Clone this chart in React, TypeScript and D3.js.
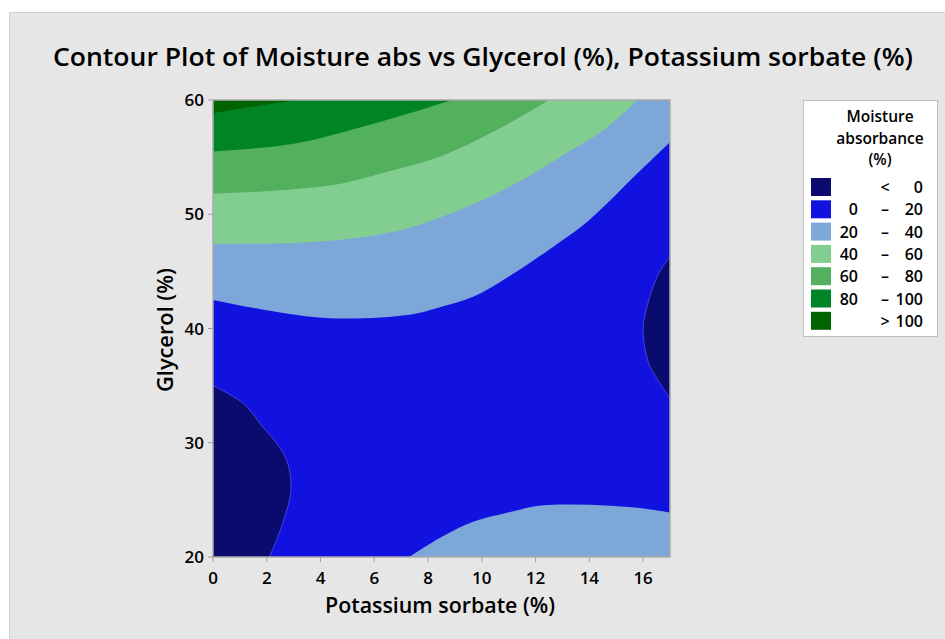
import React from "react";
import * as d3 from "d3";

// ---- data ----
const xTicks = [0, 2, 4, 6, 8, 10, 12, 14, 16];
const yTicks = [20, 30, 40, 50, 60];
const xDomain = [0, 17];
const yDomain = [20, 60];

// contour lines (x = Potassium sorbate %, y = Glycerol %)
const c0Left = [
  { x: 2.1, y: 20 }, { x: 2.6, y: 23 }, { x: 2.9, y: 26 }, { x: 2.7, y: 28.7 },
  { x: 1.75, y: 31.7 }, { x: 1.1, y: 33.5 }, { x: 0, y: 35 },
];
const c0Right = [
  { x: 17, y: 33.9 }, { x: 16.55, y: 35.5 }, { x: 16.2, y: 37 }, { x: 16.0, y: 40 },
  { x: 16.25, y: 42.8 }, { x: 16.6, y: 44.9 }, { x: 17, y: 46.3 },
];
const c20Upper = [
  { x: 0, y: 42.5 }, { x: 2, y: 41.6 }, { x: 4.35, y: 40.9 }, { x: 7.3, y: 41.2 },
  { x: 8.5, y: 41.9 }, { x: 9.7, y: 42.8 }, { x: 10.9, y: 44.4 }, { x: 12.5, y: 46.9 },
  { x: 14, y: 49.5 }, { x: 15.8, y: 53.6 }, { x: 17, y: 56.3 },
];
const c20Lower = [
  { x: 7.3, y: 20 }, { x: 8.5, y: 21.75 }, { x: 9.7, y: 23.1 }, { x: 10.9, y: 23.85 },
  { x: 12.2, y: 24.5 }, { x: 13.4, y: 24.6 }, { x: 14.6, y: 24.5 }, { x: 15.8, y: 24.3 },
  { x: 17, y: 23.9 },
];
const c40 = [
  { x: 0, y: 47.4 }, { x: 3.2, y: 47.5 }, { x: 5.6, y: 48.0 }, { x: 7.3, y: 48.8 },
  { x: 8.55, y: 49.8 }, { x: 10, y: 51.2 }, { x: 11.5, y: 53.0 }, { x: 12.9, y: 55 },
  { x: 14.5, y: 57.3 }, { x: 15.8, y: 60 },
];
const c60 = [
  { x: 0, y: 51.8 }, { x: 2.5, y: 52.1 }, { x: 4.8, y: 52.7 }, { x: 6.3, y: 53.6 },
  { x: 8.5, y: 55.1 }, { x: 10.5, y: 57.3 }, { x: 12.5, y: 60 },
];
const c80 = [
  { x: 0, y: 55.5 }, { x: 2.5, y: 56 }, { x: 3.7, y: 56.5 }, { x: 6.1, y: 58 },
  { x: 7.4, y: 58.9 }, { x: 8.9, y: 60 },
];
const c100 = [{ x: 0, y: 58.85 }, { x: 2, y: 59.6 }, { x: 3.2, y: 60 }];

const bandColors = ["#0B0A6E", "#1212E0", "#7DA7D8", "#82CD90", "#53B05F", "#018426", "#006500"];
const legendLow = ["", "0", "20", "40", "60", "80", ""];
const legendSep = ["<", "–", "–", "–", "–", "–", ">"];
const legendHigh = ["0", "20", "40", "60", "80", "100", "100"];
const legendTitle = ["Moisture", "absorbance", "(%)"];

const title = "Contour Plot of Moisture abs vs Glycerol (%), Potassium sorbate (%)";
const xLabel = "Potassium sorbate (%)";
const yLabel = "Glycerol (%)";

type P = { x: number; y: number };

export default function App() {
  const W = 945, H = 639;
  const left = 213, right = 670, top = 100, bottom = 557;
  const xs = d3.scaleLinear().domain(xDomain).range([left, right]);
  const ys = d3.scaleLinear().domain(yDomain).range([bottom, top]);
  const font = "'Open Sans', 'Noto Sans', sans-serif";
  const curve = d3.curveCatmullRom.alpha(0.5);

  const areaTop = d3.area<P>().x(d => xs(d.x)).y0(ys(60)).y1(d => ys(d.y)).curve(curve);
  const areaBottom = d3.area<P>().x(d => xs(d.x)).y0(ys(20)).y1(d => ys(d.y)).curve(curve);
  const areaLeft = d3.area<P>().y(d => ys(d.y)).x0(xs(0)).x1(d => xs(d.x)).curve(curve);
  const areaRight = d3.area<P>().y(d => ys(d.y)).x0(xs(17)).x1(d => xs(d.x)).curve(curve);
  const lineP = d3.line<P>().x(d => xs(d.x)).y(d => ys(d.y)).curve(curve);

  const legX = 803, legY = 100, legW = 134, legH = 236;
  const rowY0 = 187, rowStep = 22.3;

  return (
    <svg width={W} height={H} style={{ position: "absolute", left: 0, top: 0 }} fontFamily={font}>
      <rect x={0} y={0} width={W} height={H} fill="#ffffff" />
      <rect x={9.5} y={12.5} width={W} height={H} fill="#E6E6E6" stroke="#D0D0D0" />
      <text x={483} y={66} textAnchor="middle" fontSize={26} fontWeight={600} fill="#000"
        textLength={860} lengthAdjust="spacingAndGlyphs">{title}</text>

      <defs>
        <clipPath id="plotclip">
          <rect x={left} y={top} width={right - left} height={bottom - top} />
        </clipPath>
      </defs>
      <g clipPath="url(#plotclip)">
        <rect x={left} y={top} width={right - left} height={bottom - top} fill={bandColors[1]} />
        <path d={areaTop(c20Upper) || ""} fill={bandColors[2]} />
        <path d={areaTop(c40) || ""} fill={bandColors[3]} />
        <path d={areaTop(c60) || ""} fill={bandColors[4]} />
        <path d={areaTop(c80) || ""} fill={bandColors[5]} />
        <path d={areaTop(c100) || ""} fill={bandColors[6]} />
        <path d={areaBottom(c20Lower) || ""} fill={bandColors[2]} />
        <path d={areaLeft(c0Left) || ""} fill={bandColors[0]} />
        <path d={areaRight(c0Right) || ""} fill={bandColors[0]} />
        <path d={lineP(c0Left) || ""} fill="none" stroke="#5050E8" strokeWidth={0.8} />
        <path d={lineP(c0Right) || ""} fill="none" stroke="#5050E8" strokeWidth={0.8} />
      </g>
      <rect x={left} y={top} width={right - left} height={bottom - top} fill="none" stroke="#ABABAB" strokeWidth={1.5} />

      {xTicks.map(t => (
        <g key={"xt" + t}>
          <line x1={xs(t)} x2={xs(t)} y1={bottom} y2={bottom + 5} stroke="#A0A0A0" />
          <text x={xs(t)} y={584} textAnchor="middle" fontSize={17} fontWeight={600} fill="#000">{t}</text>
        </g>
      ))}
      {yTicks.map(t => (
        <g key={"yt" + t}>
          <line x1={left - 5} x2={left} y1={ys(t)} y2={ys(t)} stroke="#A0A0A0" />
          <text x={204} y={ys(t) + 6} textAnchor="end" fontSize={17} fontWeight={600} fill="#000">{t}</text>
        </g>
      ))}
      <text x={440} y={613} textAnchor="middle" fontSize={21} fontWeight={600} fill="#000"
        textLength={230} lengthAdjust="spacingAndGlyphs">{xLabel}</text>
      <text transform={`translate(173,330) rotate(-90)`} textAnchor="middle" fontSize={21} fontWeight={600} fill="#000"
        textLength={124} lengthAdjust="spacingAndGlyphs">{yLabel}</text>

      <rect x={legX + 0.5} y={legY + 0.5} width={legW} height={legH} fill="#ffffff" stroke="#BDBDBD" />
      {legendTitle.map((s, i) => (
        <text key={"lt" + i} x={880} y={122 + i * 21.5} textAnchor="middle" fontSize={15.5} fontWeight={600} fill="#000">{s}</text>
      ))}
      {bandColors.map((c, i) => {
        const cy = rowY0 + i * rowStep;
        return (
          <g key={"lg" + i}>
            <rect x={811} y={cy - 9} width={20} height={18} fill={c} />
            <text x={858} y={cy + 6} textAnchor="end" fontSize={16} fontWeight={600} fill="#000">{legendLow[i]}</text>
            <text x={885} y={cy + 6} textAnchor="middle" fontSize={16} fontWeight={600} fill="#000">{legendSep[i]}</text>
            <text x={923} y={cy + 6} textAnchor="end" fontSize={16} fontWeight={600} fill="#000">{legendHigh[i]}</text>
          </g>
        );
      })}
    </svg>
  );
}
